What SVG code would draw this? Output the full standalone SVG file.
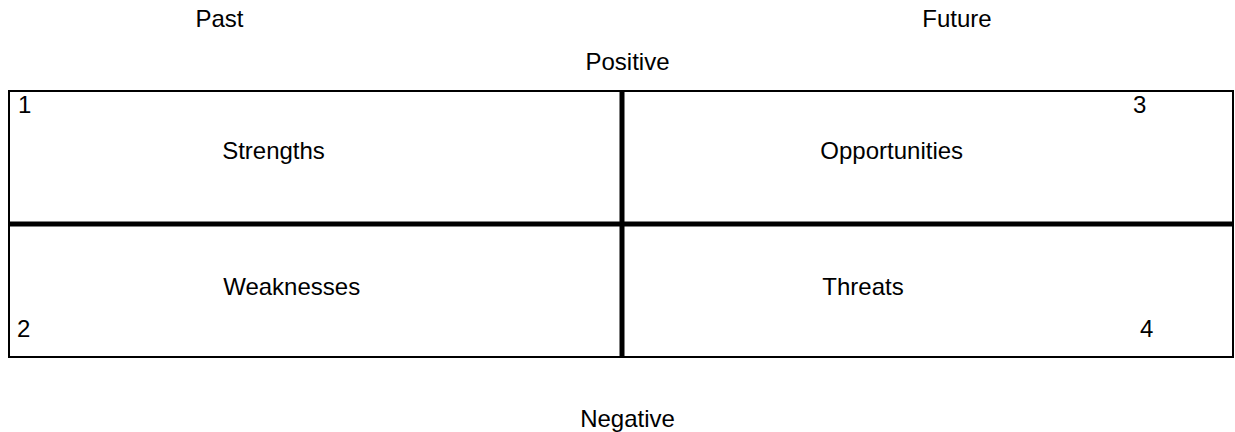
<svg xmlns="http://www.w3.org/2000/svg" width="1235" height="432" viewBox="0 0 1235 432">
<style>
text{font-family:"Liberation Sans",Arial,sans-serif;font-size:24px;fill:#000}
.c{text-anchor:middle}
.thin{fill:none;stroke:#000;stroke-width:2}
.thick{stroke:#000;stroke-width:5}
</style>
<rect width="1235" height="432" fill="#fff"/>
<g id="labels">
<text class="c" x="219.5" y="27">Past</text>
<text class="c" x="957" y="27">Future</text>
<text class="c" x="627.5" y="70">Positive</text>
<text class="c" x="627.5" y="427">Negative</text>
</g>
<g id="frame">
<rect class="thin" x="9" y="91" width="1224" height="266"/>
</g>
<g id="connectors">
<line class="thick" x1="622" y1="92" x2="622" y2="357"/>
<line class="thick" x1="9" y1="224" x2="1233" y2="224"/>
</g>
<g id="strengths">
<text x="18" y="113">1</text>
<text class="c" x="273.5" y="159">Strengths</text>
</g>
<g id="opportunities">
<text x="1133" y="113">3</text>
<text class="c" x="891.7" y="159">Opportunities</text>
</g>
<g id="weaknesses">
<text x="17" y="337">2</text>
<text class="c" x="291.7" y="295">Weaknesses</text>
</g>
<g id="threats">
<text x="1140" y="337">4</text>
<text class="c" x="863" y="295">Threats</text>
</g>
</svg>
